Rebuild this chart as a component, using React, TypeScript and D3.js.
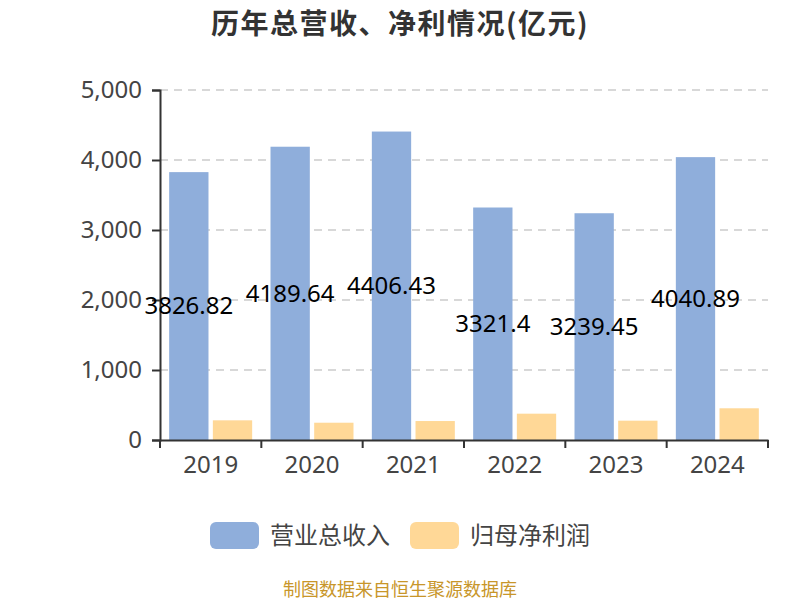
import * as d3 from "d3";
import { useEffect, useRef } from "react";

// values
const years = ["2019", "2020", "2021", "2022", "2023", "2024"];
const revenue = [3826.82, 4189.64, 4406.43, 3321.4, 3239.45, 4040.89];
const netProfit = [281, 247, 271, 376, 276, 453];
const yTicks = [0, 1000, 2000, 3000, 4000, 5000];
const seriesNames = ["营业总收入", "归母净利润"];
const seriesColors = ["#8FAEDB", "#FFD897"];

const FONT = "'Noto Sans', 'Noto Sans CJK SC', sans-serif";

export default function App() {
  const svgRef = useRef<SVGSVGElement>(null);

  useEffect(() => {
    if (!svgRef.current) return;
    const svg = d3.select(svgRef.current);
    svg.selectAll("*").remove();

    const width = 800;
    const height = 600;
    const left = 160;
    const right = 768;
    const top = 90;
    const bottom = 440;

    svg.attr("viewBox", `0 0 ${width} ${height}`).style("font-family", FONT);

    svg
      .append("rect")
      .attr("width", width)
      .attr("height", height)
      .attr("fill", "#fff");

    // Title
    svg
      .append("text")
      .attr("x", 400)
      .attr("y", 34)
      .attr("text-anchor", "middle")
      .style("font-size", "28px")
      .style("letter-spacing", "1.5px")
      .style("font-weight", "bold")
      .style("fill", "#333")
      .style("font-family", "'Noto Sans CJK SC', sans-serif")
      .text("历年总营收、净利情况(亿元)");

    const x = d3.scaleBand<string>().domain(years).range([left, right]).paddingInner(0).paddingOuter(0);
    const y = d3.scaleLinear().domain([0, 5000]).range([bottom, top]);
    const inner = d3
      .scaleBand<number>()
      .domain([0, 1])
      .range([0, x.bandwidth()])
      .paddingOuter(0.21)
      .paddingInner(0.1);

    // Grid lines
    svg
      .append("g")
      .selectAll("line")
      .data(yTicks.filter((t) => t > 0))
      .enter()
      .append("line")
      .attr("x1", left)
      .attr("x2", right)
      .attr("y1", (d) => y(d))
      .attr("y2", (d) => y(d))
      .style("stroke", "#ccc")
      .style("stroke-width", 1.5)
      .style("stroke-dasharray", "8,6");

    // Y axis
    const yAxis = svg
      .append("g")
      .attr("transform", `translate(${left},0)`)
      .call(
        d3
          .axisLeft(y)
          .tickValues(yTicks)
          .tickSize(8)
          .tickPadding(10)
          .tickFormat((d) => d3.format(",")(d as number))
      );
    yAxis.select(".domain").style("stroke", "#333").style("stroke-width", 2);
    yAxis.selectAll(".tick line").style("stroke", "#333").style("stroke-width", 2);
    yAxis
      .selectAll(".tick text")
      .style("font-size", "24px")
      .style("fill", "#444")
      .style("font-family", FONT);

    // Bars
    const groups = svg
      .append("g")
      .selectAll("g")
      .data(years)
      .enter()
      .append("g")
      .attr("transform", (d) => `translate(${x(d)},0)`);

    groups
      .append("rect")
      .attr("x", inner(0)!)
      .attr("width", inner.bandwidth())
      .attr("y", (_d, i) => y(revenue[i]))
      .attr("height", (_d, i) => bottom - y(revenue[i]))
      .attr("fill", seriesColors[0]);

    groups
      .append("rect")
      .attr("x", inner(1)!)
      .attr("width", inner.bandwidth())
      .attr("y", (_d, i) => y(netProfit[i]))
      .attr("height", (_d, i) => bottom - y(netProfit[i]))
      .attr("fill", seriesColors[1]);

    groups
      .append("text")
      .attr("x", inner(0)! + inner.bandwidth() / 2)
      .attr("y", (_d, i) => (y(revenue[i]) + bottom) / 2)
      .attr("dy", "0.35em")
      .attr("text-anchor", "middle")
      .style("font-size", "24px")
      .style("fill", "#000")
      .text((_d, i) => String(revenue[i]));

    // X axis
    const xAxis = svg
      .append("g")
      .attr("transform", `translate(0,${bottom})`)
      .call(d3.axisBottom(x).tickSize(0).tickPadding(16));
    xAxis.select(".domain").style("stroke", "#333").style("stroke-width", 2);
    xAxis
      .selectAll(".tick text")
      .style("font-size", "24px")
      .style("fill", "#444")
      .style("font-family", FONT);
    svg
      .append("g")
      .selectAll("line")
      .data([...years.map((d) => x(d)!), right])
      .enter()
      .append("line")
      .attr("x1", (d) => d)
      .attr("x2", (d) => d)
      .attr("y1", bottom)
      .attr("y2", bottom + 8)
      .style("stroke", "#333")
      .style("stroke-width", 2);

    // Legend
    const legend = svg
      .append("g")
      .selectAll("g")
      .data(seriesNames)
      .enter()
      .append("g")
      .attr("transform", (_d, i) => `translate(${210 + i * 200},522)`);
    legend
      .append("rect")
      .attr("width", 49)
      .attr("height", 27)
      .attr("rx", 6)
      .attr("fill", (_d, i) => seriesColors[i]);
    legend
      .append("text")
      .attr("x", 60)
      .attr("y", 14)
      .attr("dy", "0.35em")
      .style("font-size", "24px")
      .style("fill", "#444")
      .text((d) => d);

    // Footer
    svg
      .append("text")
      .attr("x", 400)
      .attr("y", 596)
      .attr("text-anchor", "middle")
      .style("font-size", "18px")
      .style("fill", "#C8962A")
      .text("制图数据来自恒生聚源数据库");
  }, []);

  return (
    <div style={{ position: "fixed", left: 0, top: 0, width: 800, height: 600 }}>
      <svg ref={svgRef} width={800} height={600} style={{ display: "block" }} />
    </div>
  );
}
